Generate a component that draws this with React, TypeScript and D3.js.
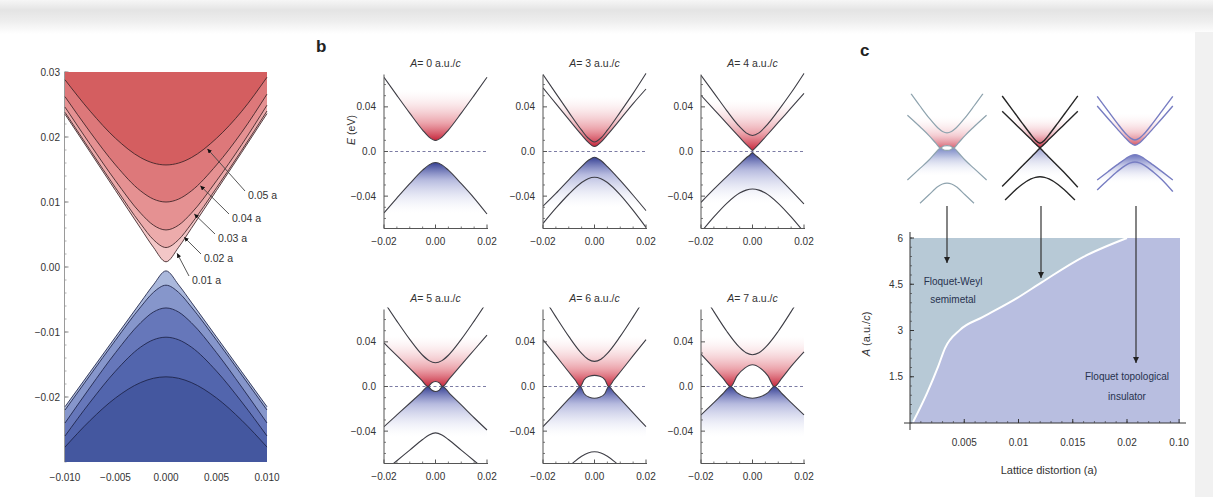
import React from "react";
import * as d3 from "d3";

type Pt = [number, number];

// ---------------- Panel a data ----------------
const aK = [-0.01, -0.0075, -0.005, -0.0025, -0.00125, 0, 0.00125, 0.0025, 0.005, 0.0075, 0.01];
const aLabels = ["0.01 a", "0.02 a", "0.03 a", "0.04 a", "0.05 a"];
const aCond: number[][] = [
  [0.0235, 0.01764, 0.01177, 0.00592, 0.00304, 0.0008, 0.00304, 0.00592, 0.01177, 0.01764, 0.0236],
  [0.0238, 0.01796, 0.01218, 0.00662, 0.00421, 0.003, 0.00421, 0.00662, 0.01218, 0.01796, 0.024],
  [0.0246, 0.01883, 0.01326, 0.00826, 0.00644, 0.0057, 0.00644, 0.00826, 0.01326, 0.01883, 0.0249],
  [0.0262, 0.02073, 0.0157, 0.01169, 0.01045, 0.01, 0.01045, 0.01169, 0.0157, 0.02073, 0.0266],
  [0.0288, 0.02396, 0.0198, 0.01682, 0.01599, 0.0157, 0.01599, 0.01682, 0.0198, 0.02396, 0.0292],
];
const aVal: number[][] = [
  [-0.0215, -0.01613, -0.01076, -0.0054, -0.00275, -0.0006, -0.00275, -0.0054, -0.01076, -0.01613, -0.0215],
  [-0.022, -0.01661, -0.01126, -0.00613, -0.00391, -0.0028, -0.00391, -0.00613, -0.01126, -0.01661, -0.022],
  [-0.024, -0.01848, -0.01318, -0.00856, -0.00693, -0.0063, -0.00693, -0.00856, -0.01318, -0.01848, -0.024],
  [-0.026, -0.02077, -0.01602, -0.01231, -0.0112, -0.0108, -0.0112, -0.01231, -0.01602, -0.02077, -0.026],
  [-0.0277, -0.02359, -0.02015, -0.01777, -0.01712, -0.0169, -0.01712, -0.01777, -0.02015, -0.02359, -0.0277],
];
const aLabelK = [0.0009, 0.0016, 0.0026, 0.0032, 0.0039];
const aYTicks = [0.03, 0.02, 0.01, 0, -0.01, -0.02];
const aYTickLabels = ["0.03", "0.02", "0.01", "0.00", "\u22120.01", "\u22120.02"];
const aXTicks = [-0.01, -0.005, 0, 0.005, 0.01];
const aXTickLabels = ["\u22120.010", "\u22120.005", "0.000", "0.005", "0.010"];

// ---------------- Panel b data ----------------
const bAmplitudes = [0, 3, 4, 5, 6, 7];
const bA0: Pt[][] = [
  [[-0.02, 0.0665], [-0.015, 0.0503], [-0.01, 0.0344], [-0.005, 0.0192], [-0.0025, 0.0129], [0, 0.0099], [0.0025, 0.0129], [0.005, 0.0192], [0.01, 0.0344], [0.015, 0.0503], [0.02, 0.0665]],
  [[-0.02, -0.055], [-0.015, -0.0417], [-0.01, -0.0288], [-0.005, -0.0167], [-0.0025, -0.012], [0, -0.0099], [0.0025, -0.012], [0.005, -0.0167], [0.01, -0.0288], [0.015, -0.0417], [0.02, -0.056]],
];
const bA3: Pt[][] = [
  [[-0.02, 0.069], [-0.015, 0.0521], [-0.01, 0.0353], [-0.005, 0.0191], [-0.0025, 0.0121], [0, 0.0085], [0.0025, 0.0121], [0.005, 0.0191], [0.01, 0.0353], [0.015, 0.0521], [0.02, 0.07]],
  [[-0.02, 0.057], [-0.015, 0.0429], [-0.01, 0.0288], [-0.005, 0.0149], [-0.0025, 0.0084], [0, 0.0045], [0.0025, 0.0084], [0.005, 0.0149], [0.01, 0.0288], [0.015, 0.0429], [0.02, 0.056]],
  [[-0.02, -0.049], [-0.015, -0.0376], [-0.01, -0.0254], [-0.005, -0.0135], [-0.0025, -0.0081], [0, -0.0051], [0.0025, -0.0081], [0.005, -0.0135], [0.01, -0.0259], [0.015, -0.0392], [0.02, -0.053]],
  [[-0.02, -0.0645], [-0.015, -0.0508], [-0.01, -0.0383], [-0.005, -0.0278], [-0.0025, -0.0244], [0, -0.0231], [0.0025, -0.0244], [0.005, -0.0278], [0.01, -0.0389], [0.015, -0.0528], [0.02, -0.068]],
];
const bA4: Pt[][] = [
  [[-0.02, 0.0683], [-0.015, 0.0526], [-0.01, 0.0367], [-0.005, 0.0222], [-0.0025, 0.0167], [0, 0.0144], [0.0025, 0.0167], [0.005, 0.0222], [0.01, 0.0367], [0.015, 0.0526], [0.02, 0.07]],
  [[-0.02, 0.0504], [-0.015, 0.0378], [-0.01, 0.0252], [-0.005, 0.0127], [-0.0025, 0.0064], [-0.001, 0.0031], [0, 0.001], [0.001, 0.0031], [0.0025, 0.0066], [0.005, 0.013], [0.01, 0.026], [0.015, 0.039], [0.02, 0.052]],
  [[-0.02, -0.0456], [-0.015, -0.0338], [-0.01, -0.0225], [-0.005, -0.0113], [-0.0025, -0.0058], [-0.001, -0.0031], [0, -0.001], [0.001, -0.0031], [0.0025, -0.0059], [0.005, -0.0116], [0.01, -0.023], [0.015, -0.0348], [0.02, -0.047]],
  [[-0.02, -0.0723], [-0.015, -0.0586], [-0.01, -0.0464], [-0.005, -0.0372], [-0.0025, -0.0346], [0, -0.0336], [0.0025, -0.0346], [0.005, -0.0372], [0.01, -0.0464], [0.015, -0.0586], [0.02, -0.0723]],
];
const bA5: Pt[][] = [
  [[-0.02, 0.0759], [-0.015, 0.0586], [-0.01, 0.0422], [-0.005, 0.028], [-0.0025, 0.0232], [0, 0.0213], [0.0025, 0.0232], [0.005, 0.028], [0.01, 0.0422], [0.015, 0.0586], [0.02, 0.0759]],
  [[-0.02, 0.039], [-0.015, 0.0276], [-0.01, 0.0162], [-0.0055, 0.0059], [-0.0029, 0], [-0.0015, 0.0032], [0, 0.0045], [0.0015, 0.0032], [0.0027, 0], [0.0055, 0.0073], [0.01, 0.0194], [0.015, 0.0327], [0.02, 0.046]],
  [[-0.02, -0.036], [-0.015, -0.0255], [-0.01, -0.015], [-0.0055, -0.0055], [-0.0029, 0], [-0.0015, -0.0032], [0, -0.0045], [0.0015, -0.0032], [0.0027, 0], [0.0055, -0.0063], [0.01, -0.0165], [0.015, -0.028], [0.02, -0.039]],
  [[-0.02, -0.076], [-0.015, -0.0665], [-0.01, -0.057], [-0.005, -0.0475], [-0.0025, -0.0435], [0, -0.0416], [0.0025, -0.0435], [0.005, -0.0475], [0.01, -0.057], [0.015, -0.0665], [0.02, -0.076]],
];
const bA6: Pt[][] = [
  [[-0.02, 0.0808], [-0.015, 0.0624], [-0.01, 0.0449], [-0.005, 0.0297], [-0.0025, 0.0245], [0, 0.0225], [0.0025, 0.0245], [0.005, 0.0297], [0.01, 0.0449], [0.015, 0.0624], [0.02, 0.0808]],
  [[-0.02, 0.042], [-0.015, 0.0276], [-0.01, 0.013], [-0.0075, 0.0058], [-0.0055, 0], [-0.004, 0.0062], [-0.002, 0.0092], [0, 0.01], [0.002, 0.0092], [0.004, 0.0062], [0.0055, 0], [0.0075, 0.0058], [0.01, 0.013], [0.015, 0.0276], [0.02, 0.042]],
  [[-0.02, -0.036], [-0.015, -0.0236], [-0.01, -0.0112], [-0.0075, -0.005], [-0.0055, 0], [-0.004, -0.0065], [-0.002, -0.0097], [0, -0.0105], [0.002, -0.0097], [0.004, -0.0065], [0.0055, 0], [0.0075, -0.005], [0.01, -0.0112], [0.015, -0.0236], [0.02, -0.036]],
  [[-0.012, -0.08], [-0.01, -0.0725], [-0.0075, -0.0668], [-0.005, -0.0625], [-0.0025, -0.0595], [0, -0.0585], [0.0025, -0.0595], [0.005, -0.0625], [0.0075, -0.0668], [0.01, -0.0725], [0.012, -0.08]],
];
const bA7: Pt[][] = [
  [[-0.02, 0.0859], [-0.015, 0.0671], [-0.01, 0.0495], [-0.005, 0.035], [-0.0025, 0.0302], [0, 0.0285], [0.0025, 0.0302], [0.005, 0.035], [0.01, 0.0495], [0.015, 0.0671], [0.02, 0.0859]],
  [[-0.02, 0.029], [-0.015, 0.0165], [-0.0115, 0.0075], [-0.0085, 0], [-0.006, 0.0095], [-0.003, 0.0165], [0, 0.0195], [0.003, 0.0165], [0.006, 0.0095], [0.0085, 0], [0.0115, 0.0078], [0.015, 0.018], [0.02, 0.031]],
  [[-0.02, -0.0255], [-0.015, -0.0145], [-0.0115, -0.0065], [-0.0085, 0], [-0.006, -0.0055], [-0.003, -0.0092], [0, -0.0105], [0.003, -0.0092], [0.006, -0.0055], [0.0085, 0], [0.0115, -0.0065], [0.015, -0.0145], [0.02, -0.0255]],
];
const bCurves = [bA0, bA3, bA4, bA5, bA6, bA7];
const bRedIdx = [0, 1, 1, 1, 1, 1];
const bBlueIdx = [1, 2, 2, 2, 2, 2];
const bYTicks = [0.04, 0, -0.04];
const bYTickLabels = ["0.04", "0.0", "\u22120.04"];
const bXTicks = [-0.02, 0, 0.02];
const bXTickLabels = ["\u22120.02", "0.00", "0.02"];

// ---------------- Panel c data ----------------
const cMini1: Pt[][] = [
  [[-0.02, 0.068], [-0.015, 0.0525], [-0.01, 0.0377], [-0.005, 0.025], [-0.0025, 0.0207], [0, 0.019], [0.0025, 0.0207], [0.005, 0.025], [0.01, 0.0377], [0.015, 0.0525], [0.02, 0.068]],
  [[-0.022, 0.041], [-0.015, 0.0265], [-0.01, 0.0155], [-0.006, 0.0055], [-0.0037, 0], [-0.0018, 0.0025], [0, 0.003], [0.0018, 0.0025], [0.0037, 0], [0.006, 0.0055], [0.01, 0.0155], [0.015, 0.0265], [0.022, 0.041]],
  [[-0.022, -0.04], [-0.015, -0.0255], [-0.01, -0.015], [-0.006, -0.005], [-0.0037, 0], [-0.0018, -0.0025], [0, -0.003], [0.0018, -0.0025], [0.0037, 0], [0.006, -0.005], [0.01, -0.015], [0.015, -0.0255], [0.022, -0.04]],
  [[-0.015, -0.069], [-0.01, -0.0585], [-0.005, -0.048], [-0.0025, -0.045], [0, -0.044], [0.0025, -0.045], [0.005, -0.048], [0.01, -0.0585], [0.015, -0.069]],
];
const cMini2: Pt[][] = [
  [[-0.021, 0.065], [-0.015, 0.0467], [-0.01, 0.0315], [-0.005, 0.0166], [-0.0025, 0.0098], [0, 0.006], [0.0025, 0.0098], [0.005, 0.0166], [0.01, 0.0315], [0.015, 0.0467], [0.021, 0.065]],
  [[-0.021, 0.046], [-0.015, 0.0328], [-0.01, 0.0218], [-0.005, 0.0108], [-0.002, 0.0042], [0, 0.0006], [0.002, 0.0042], [0.005, 0.0108], [0.01, 0.0218], [0.015, 0.0328], [0.021, 0.046]],
  [[-0.021, -0.048], [-0.015, -0.0343], [-0.01, -0.0229], [-0.005, -0.0115], [-0.002, -0.0046], [0, -0.0006], [0.002, -0.0046], [0.005, -0.0115], [0.01, -0.0229], [0.015, -0.0343], [0.021, -0.049]],
  [[-0.0194, -0.065], [-0.015, -0.0552], [-0.01, -0.0456], [-0.005, -0.0387], [-0.0025, -0.0367], [0, -0.036], [0.0025, -0.0367], [0.005, -0.0387], [0.01, -0.0456], [0.015, -0.0552], [0.0194, -0.065]],
];
const cMini3: Pt[][] = [
  [[-0.021, 0.067], [-0.015, 0.0489], [-0.01, 0.0339], [-0.005, 0.0201], [-0.0025, 0.0148], [0, 0.0125], [0.0025, 0.0148], [0.005, 0.0201], [0.01, 0.0339], [0.015, 0.0489], [0.021, 0.067]],
  [[-0.021, 0.055], [-0.015, 0.0394], [-0.01, 0.0267], [-0.005, 0.0143], [-0.0025, 0.0088], [0, 0.006], [0.0025, 0.0088], [0.005, 0.0143], [0.01, 0.0267], [0.015, 0.0394], [0.021, 0.055]],
  [[-0.021, -0.0375], [-0.015, -0.0271], [-0.01, -0.0186], [-0.005, -0.0106], [-0.0025, -0.0074], [0, -0.006], [0.0025, -0.0074], [0.005, -0.0106], [0.01, -0.0186], [0.015, -0.0271], [0.021, -0.0375]],
  [[-0.021, -0.05], [-0.015, -0.0372], [-0.01, -0.0272], [-0.005, -0.0188], [-0.0025, -0.016], [0, -0.015], [0.0025, -0.016], [0.005, -0.0188], [0.01, -0.0272], [0.015, -0.0372], [0.021, -0.052]],
];
const cMinis = [cMini1, cMini2, cMini3];
const cMiniRedIdx = [1, 1, 1];
const cMiniBlueIdx = [2, 2, 2];
const cBoundaryD = [0.00028, 0.00157, 0.00258, 0.00323, 0.00461, 0.00673, 0.00986, 0.01217, 0.01594, 0.02];
const cBoundaryA = [0.03, 0.97, 1.82, 2.43, 3.02, 3.44, 4.05, 4.57, 5.38, 6.0];
const cYTicks = [1.5, 3, 4.5, 6];
const cYTickLabels = ["1.5", "3", "4.5", "6"];
const cXTicks = [0.005, 0.01, 0.015, 0.02, 0.0248];
const cXTickLabels = ["0.005", "0.01", "0.015", "0.02", "0.10"];

const FONT = "'Liberation Sans', Arial, Helvetica, sans-serif";

function PanelA() {
  const x = d3.scaleLinear().domain([-0.01, 0.01]).range([65, 267]);
  const y = d3.scaleLinear().domain([-0.03, 0.03]).range([462, 72]);
  const pts = (E: number[]) => aK.map((k, i) => [k, E[i]] as Pt);
  const line = d3.line<Pt>().x((d) => x(d[0])).y((d) => y(d[1])).curve(d3.curveMonotoneX);
  const areaUp = d3.area<Pt>().x((d) => x(d[0])).y0(y(0.03)).y1((d) => y(d[1])).curve(d3.curveMonotoneX);
  const areaDown = d3.area<Pt>().x((d) => x(d[0])).y0(y(-0.03)).y1((d) => y(d[1])).curve(d3.curveMonotoneX);
  const redFills = ["#f3c7c7", "#ecabab", "#e59192", "#dd787a", "#d45e60"];
  const blueFills = ["#aab8dc", "#8696cb", "#6677ba", "#5265ad", "#44579f"];
  const labelPos: Pt[] = [[192, 284], [204, 262], [218, 242], [232, 222], [248, 199]];
  const minor = d3.range(-0.03, 0.0301, 0.002);
  const interp = (E: number[], k: number) => {
    const i = d3.bisectRight(aK, k) - 1;
    const t = (k - aK[i]) / (aK[i + 1] - aK[i]);
    return E[i] + t * (E[i + 1] - E[i]);
  };
  return (
    <g>
      <line x1={64.5} x2={64.5} y1={72} y2={462} stroke="#9a9a9a" strokeWidth={1} />
      {minor.map((v, i) => (
        <line key={"mn" + i} x1={64.5} x2={66.5} y1={y(v)} y2={y(v)} stroke="#9a9a9a" strokeWidth={0.8} />
      ))}
      {aYTicks.map((v, i) => (
        <g key={"yt" + i}>
          <line x1={64.5} x2={68.5} y1={y(v)} y2={y(v)} stroke="#888" strokeWidth={1} />
          <text x={60} y={y(v) + 3.5} fontSize={10} textAnchor="end" fill="#333">{aYTickLabels[i]}</text>
        </g>
      ))}
      {aCond.map((E, i) => (
        <path key={"ca" + i} d={areaUp(pts(E))!} fill={redFills[i]} />
      ))}
      {aVal.map((E, i) => (
        <path key={"va" + i} d={areaDown(pts(E))!} fill={blueFills[i]} />
      ))}
      {aCond.map((E, i) => (
        <path key={"cl" + i} d={line(pts(E))!} fill="none" stroke="#3a2226" strokeWidth={1} strokeOpacity={0.85} />
      ))}
      {aVal.map((E, i) => (
        <path key={"vl" + i} d={line(pts(E))!} fill="none" stroke="#1c2246" strokeWidth={1} strokeOpacity={0.85} />
      ))}
      {aLabels.map((lab, i) => {
        const k = aLabelK[i];
        const hx = x(k) + 2;
        const hy = y(interp(aCond[i], k)) + 2;
        const [lx, ly] = labelPos[i];
        return (
          <g key={"lab" + i}>
            <line x1={hx} y1={hy} x2={lx - 3} y2={ly - 8} stroke="#444" strokeWidth={0.9} markerStart="url(#arrowA)" />
            <text x={lx} y={ly} fontSize={10.5} fill="#333">{lab}</text>
          </g>
        );
      })}
      {aXTicks.map((v, i) => (
        <text key={"xt" + i} x={x(v)} y={481} fontSize={10} textAnchor="middle" fill="#333">{aXTickLabels[i]}</text>
      ))}
    </g>
  );
}

function BandPlot(props: { id: string; x0: number; yZero: number; curves: Pt[][]; redIdx: number; blueIdx: number; amp: number; }) {
  const { id, x0, yZero, curves, redIdx, blueIdx, amp } = props;
  const W = 103, H = 77;
  const xs = d3.scaleLinear().domain([-0.02, 0.02]).range([x0, x0 + W]);
  const ys = d3.scaleLinear().domain([-0.069, 0.069]).range([yZero + H, yZero - H]);
  const top = yZero - H, bot = yZero + H;
  const line = d3.line<Pt>().x((d) => xs(d[0])).y((d) => ys(d[1])).curve(d3.curveMonotoneX);
  const areaUp = d3.area<Pt>().x((d) => xs(d[0])).y0(top - 6).y1((d) => ys(d[1])).curve(d3.curveMonotoneX);
  const areaDown = d3.area<Pt>().x((d) => xs(d[0])).y0(bot).y1((d) => ys(d[1])).curve(d3.curveMonotoneX);
  const red = curves[redIdx], blue = curves[blueIdx];
  const eMin = d3.min(red, (d) => d[1]) as number;
  const eMax = d3.max(blue, (d) => d[1]) as number;
  const yMinor = d3.range(-0.06, 0.061, 0.01).filter((v) => Math.abs(v) > 1e-9 && Math.abs(Math.abs(v) - 0.04) > 1e-9);
  const xMinor = [-0.015, -0.01, -0.005, 0.005, 0.01, 0.015];
  return (
    <g>
      <defs>
        <clipPath id={id + "clip"}>
          <rect x={x0} y={top - 2} width={W + 2} height={bot - top + 2} />
        </clipPath>
        <linearGradient id={id + "r"} gradientUnits="userSpaceOnUse" x1={0} x2={0} y1={ys(eMin)} y2={ys(eMin + 0.045)}>
          <stop offset="0" stopColor="#c21a30" stopOpacity={0.95} />
          <stop offset="0.35" stopColor="#dc5a68" stopOpacity={0.55} />
          <stop offset="1" stopColor="#f6d0d6" stopOpacity={0} />
        </linearGradient>
        <linearGradient id={id + "b"} gradientUnits="userSpaceOnUse" x1={0} x2={0} y1={ys(eMax)} y2={ys(eMax - 0.045)}>
          <stop offset="0" stopColor="#1e2a86" stopOpacity={0.9} />
          <stop offset="0.35" stopColor="#5f68b8" stopOpacity={0.45} />
          <stop offset="1" stopColor="#d4d8f0" stopOpacity={0} />
        </linearGradient>
      </defs>
      <g clipPath={`url(#${id}clip)`}>
        <path d={areaUp(red)!} fill={`url(#${id}r)`} />
        <path d={areaDown(blue)!} fill={`url(#${id}b)`} />
        <line x1={x0} x2={x0 + W} y1={yZero} y2={yZero} stroke="#7c7ca4" strokeWidth={1} strokeDasharray="3 2.5" />
        {curves.map((c, i) => (
          <path key={i} d={line(c)!} fill="none" stroke="#3d3d45" strokeWidth={1.1} />
        ))}
      </g>
      <line x1={x0} x2={x0} y1={top} y2={bot} stroke="#555" strokeWidth={1} />
      <line x1={x0} x2={x0 + W + 1} y1={bot} y2={bot} stroke="#555" strokeWidth={1.1} />
      {yMinor.map((v, i) => (
        <line key={"ym" + i} x1={x0} x2={x0 + 2} y1={ys(v)} y2={ys(v)} stroke="#555" strokeWidth={0.8} />
      ))}
      {xMinor.map((v, i) => (
        <line key={"xm" + i} x1={xs(v)} x2={xs(v)} y1={bot} y2={bot - 2} stroke="#555" strokeWidth={0.8} />
      ))}
      {bYTicks.map((v, i) => (
        <g key={"yt" + i}>
          <line x1={x0} x2={x0 + 4} y1={ys(v)} y2={ys(v)} stroke="#555" strokeWidth={1} />
          <text x={x0 - 8} y={ys(v) + 3.5} fontSize={10} textAnchor="end" fill="#333">{bYTickLabels[i]}</text>
        </g>
      ))}
      {bXTicks.map((v, i) => (
        <g key={"xt" + i}>
          <line x1={xs(v)} x2={xs(v)} y1={bot} y2={bot - 4} stroke="#555" strokeWidth={1} />
          <text x={xs(v)} y={bot + 16} fontSize={10} textAnchor="middle" fill="#333">{bXTickLabels[i]}</text>
        </g>
      ))}
      <text x={x0 + W / 2} y={top - 8} fontSize={10.5} textAnchor="middle" fill="#333">
        <tspan fontStyle="italic">A</tspan>= {amp} a.u./<tspan fontStyle="italic">c</tspan>
      </text>
    </g>
  );
}

function PanelB() {
  const cols = [384, 543, 701];
  const rows = [151.5, 386.5];
  return (
    <g>
      <text x={316} y={52} fontSize={17} fontWeight="bold" fill="#222">b</text>
      <text transform="translate(355,130) rotate(-90)" fontSize={10.5} textAnchor="middle" fill="#333">
        <tspan fontStyle="italic">E</tspan> (eV)
      </text>
      {bAmplitudes.map((A, i) => (
        <BandPlot key={i} id={"bp" + i} x0={cols[i % 3]} yZero={rows[Math.floor(i / 3)]} curves={bCurves[i]} redIdx={bRedIdx[i]} blueIdx={bBlueIdx[i]} amp={A} />
      ))}
    </g>
  );
}

function MiniBands(props: { id: string; cx: number; cy: number; curves: Pt[][]; redIdx: number; blueIdx: number; stroke: string; width: number; redStrength: number; blueColor: string; }) {
  const { id, cx, cy, curves, redIdx, blueIdx, stroke, width, redStrength, blueColor } = props;
  const xs = d3.scaleLinear().domain([-0.02, 0.02]).range([cx - 36, cx + 36]);
  const ys = d3.scaleLinear().domain([0, 1]).range([cy, cy - 800]);
  const line = d3.line<Pt>().x((d) => xs(d[0])).y((d) => ys(d[1])).curve(d3.curveMonotoneX);
  const areaUp = d3.area<Pt>().x((d) => xs(d[0])).y0(ys(0.07)).y1((d) => ys(d[1])).curve(d3.curveMonotoneX);
  const areaDown = d3.area<Pt>().x((d) => xs(d[0])).y0(ys(-0.07)).y1((d) => ys(d[1])).curve(d3.curveMonotoneX);
  const red = curves[redIdx], blue = curves[blueIdx];
  const eMin = d3.min(red, (d) => d[1]) as number;
  const eMax = d3.max(blue, (d) => d[1]) as number;
  return (
    <g>
      <defs>
        <clipPath id={id + "clip"}>
          <rect x={cx - 42} y={ys(0.068)} width={84} height={ys(-0.072) - ys(0.068)} />
        </clipPath>
        <linearGradient id={id + "r"} gradientUnits="userSpaceOnUse" x1={0} x2={0} y1={ys(eMin)} y2={ys(eMin + 0.04)}>
          <stop offset="0" stopColor="#c21a30" stopOpacity={0.9 * redStrength} />
          <stop offset="0.4" stopColor="#e07080" stopOpacity={0.45 * redStrength} />
          <stop offset="1" stopColor="#fbe0e4" stopOpacity={0} />
        </linearGradient>
        <linearGradient id={id + "b"} gradientUnits="userSpaceOnUse" x1={0} x2={0} y1={ys(eMax)} y2={ys(eMax - 0.035)}>
          <stop offset="0" stopColor={blueColor} stopOpacity={0.8} />
          <stop offset="0.4" stopColor={blueColor} stopOpacity={0.3} />
          <stop offset="1" stopColor="#e0e4f4" stopOpacity={0} />
        </linearGradient>
      </defs>
      <g clipPath={`url(#${id}clip)`}>
        <path d={areaUp(red)!} fill={`url(#${id}r)`} />
        <path d={areaDown(blue)!} fill={`url(#${id}b)`} />
        {curves.map((c, i) => (
          <path key={i} d={line(c)!} fill="none" stroke={stroke} strokeWidth={width} />
        ))}
      </g>
    </g>
  );
}

function PanelC() {
  const x = d3.scaleLinear().domain([0, 0.02]).range([910, 1127]);
  const y = d3.scaleLinear().domain([0, 6]).range([423, 238]);
  const right = 1180;
  const boundary: Pt[] = cBoundaryD.map((d, i) => [d, cBoundaryA[i]] as Pt);
  const line = d3.line<Pt>().x((d) => x(d[0])).y((d) => y(d[1])).curve(d3.curveMonotoneX);
  const bPath = line(boundary)!;
  const semi = `M${x(0)},${y(0)}L` + bPath.slice(1) + `L${x(0)},${y(6)}Z`;
  const miniCx = [947, 1040, 1135];
  const miniCy = [148, 148, 150];
  const miniStroke = ["#8ea3ae", "#262626", "#777dc2"];
  const miniWidth = [1.2, 1.4, 1.4];
  const miniRed = [0.75, 1, 0.8];
  const miniBlue = ["#5a6cb8", "#8890c8", "#4a55b0"];
  const arrowX = [947, 1041, 1136];
  const arrowEnd = [263, 278, 363];
  const xMinor = d3.range(0.001, 0.0245, 0.001);
  const yMinor = d3.range(0, 6.01, 0.3);
  return (
    <g>
      <text x={860} y={56} fontSize={17} fontWeight="bold" fill="#222">c</text>
      {cMinis.map((m, i) => (
        <MiniBands key={i} id={"mini" + i} cx={miniCx[i]} cy={miniCy[i]} curves={m} redIdx={cMiniRedIdx[i]} blueIdx={cMiniBlueIdx[i]} stroke={miniStroke[i]} width={miniWidth[i]} redStrength={miniRed[i]} blueColor={miniBlue[i]} />
      ))}
      <rect x={x(0)} y={y(6)} width={right - x(0)} height={y(0) - y(6)} fill="#b8bee0" />
      <path d={semi} fill="#b7c9d6" />
      <path d={bPath} fill="none" stroke="#ffffff" strokeWidth={2} />
      <line x1={910} x2={910} y1={232} y2={430} stroke="#333" strokeWidth={1} />
      <line x1={904} x2={1186} y1={423} y2={423} stroke="#333" strokeWidth={1} />
      {xMinor.map((v, i) => (
        <line key={"xm" + i} x1={x(v)} x2={x(v)} y1={423} y2={421} stroke="#444" strokeWidth={0.7} />
      ))}
      {yMinor.map((v, i) => (
        <line key={"ym" + i} x1={910} x2={912} y1={y(v)} y2={y(v)} stroke="#444" strokeWidth={0.7} />
      ))}
      {cXTicks.map((v, i) => (
        <g key={"xt" + i}>
          <line x1={x(v)} x2={x(v)} y1={423} y2={419} stroke="#333" strokeWidth={1} />
          <text x={x(v)} y={446} fontSize={10} textAnchor="middle" fill="#333">{cXTickLabels[i]}</text>
        </g>
      ))}
      {cYTicks.map((v, i) => (
        <g key={"yt" + i}>
          <line x1={910} x2={914} y1={y(v)} y2={y(v)} stroke="#333" strokeWidth={1} />
          <text x={903} y={y(v) + 3.5} fontSize={10} textAnchor="end" fill="#333">{cYTickLabels[i]}</text>
        </g>
      ))}
      <text x={953} y={285} fontSize={10} textAnchor="middle" fill="#27324e">Floquet-Weyl</text>
      <text x={953} y={303} fontSize={10} textAnchor="middle" fill="#27324e">semimetal</text>
      <text x={1127} y={380} fontSize={10} textAnchor="middle" fill="#27324e">Floquet topological</text>
      <text x={1127} y={400} fontSize={10} textAnchor="middle" fill="#27324e">insulator</text>
      {arrowX.map((ax, i) => (
        <line key={"ar" + i} x1={ax} x2={ax} y1={206} y2={arrowEnd[i]} stroke="#333" strokeWidth={1.2} markerEnd="url(#arrowC)" />
      ))}
      <text x={1049} y={474} fontSize={11} textAnchor="middle" fill="#333">Lattice distortion (a)</text>
      <text transform="translate(870,334) rotate(-90)" fontSize={11} textAnchor="middle" fill="#333">
        <tspan fontStyle="italic">A</tspan> (a.u./<tspan fontStyle="italic">c</tspan>)
      </text>
    </g>
  );
}

export default function App() {
  return (
    <svg width={1213} height={497} viewBox="0 0 1213 497" style={{ position: "absolute", left: 0, top: 0 }} fontFamily={FONT}>
      <defs>
        <linearGradient id="topbar" x1={0} x2={0} y1={0} y2={1}>
          <stop offset="0" stopColor="#f6f6f6" />
          <stop offset="0.3" stopColor="#e4e4e4" />
          <stop offset="0.6" stopColor="#ededed" />
          <stop offset="1" stopColor="#ffffff" />
        </linearGradient>
        <marker id="arrowA" viewBox="0 0 6 6" refX={6} refY={3} markerWidth={5} markerHeight={5} orient="auto-start-reverse">
          <path d="M0,0 L6,3 L0,6 z" fill="#111" />
        </marker>
        <marker id="arrowC" viewBox="0 0 6 6" refX={6} refY={3} markerWidth={5} markerHeight={5} orient="auto">
          <path d="M0,0 L6,3 L0,6 z" fill="#222" />
        </marker>
      </defs>
      <rect x={0} y={0} width={1213} height={497} fill="#ffffff" />
      <rect x={0} y={0} width={1213} height={34} fill="url(#topbar)" />
      <rect x={1195} y={32} width={18} height={465} fill="#f1f1f1" />
      <PanelA />
      <PanelB />
      <PanelC />
    </svg>
  );
}
